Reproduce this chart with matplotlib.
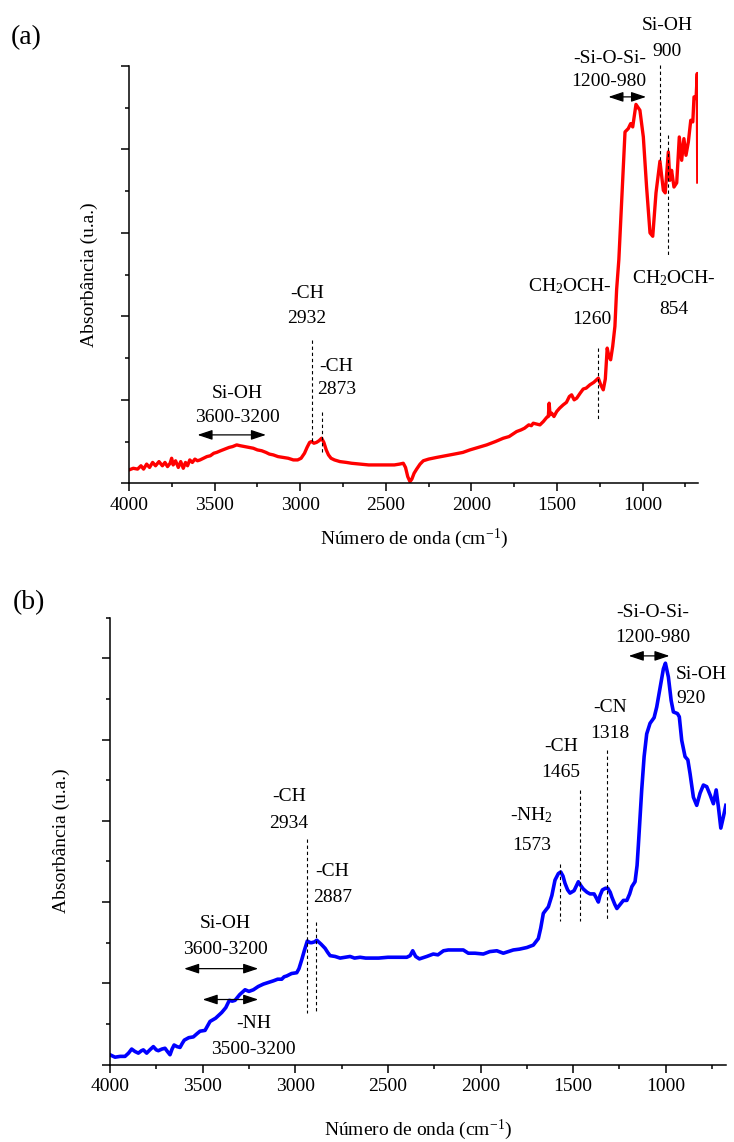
import matplotlib
matplotlib.use("Agg")
import matplotlib.pyplot as plt
from matplotlib.ticker import MultipleLocator, NullFormatter

plt.rcParams['font.family'] = ['Liberation Serif', 'DejaVu Serif']
plt.rcParams['mathtext.fontset'] = 'custom'
plt.rcParams['mathtext.rm'] = 'Liberation Serif'
plt.rcParams['mathtext.it'] = 'Liberation Serif:italic'
plt.rcParams['mathtext.bf'] = 'Liberation Serif:bold'
plt.rcParams['axes.unicode_minus'] = False

# ---------------- spectrum (a) ----------------
wn_a = [4000, 3975, 3950, 3930, 3915, 3897, 3880, 3862, 3845, 3825, 3805, 3790,
        3775, 3760, 3751, 3742, 3728, 3712, 3698, 3683, 3670, 3658, 3645, 3630,
        3615, 3600, 3585, 3565, 3545, 3525, 3505, 3488, 3465, 3440, 3415, 3395,
        3371, 3350, 3325, 3300, 3274, 3250, 3225, 3200, 3180, 3157, 3130, 3100,
        3070, 3040, 3015, 2995, 2975, 2960, 2945, 2933, 2920, 2905, 2890, 2875,
        2862, 2848, 2835, 2820, 2800, 2768, 2730, 2700, 2650, 2600, 2550, 2500,
        2450, 2420, 2398, 2385, 2372, 2359, 2348, 2335, 2320, 2300, 2281, 2250,
        2203, 2150, 2100, 2050, 2009, 1960, 1911, 1860, 1814, 1780, 1750, 1736,
        1710, 1690, 1665, 1650, 1639, 1620, 1600, 1580, 1560, 1551, 1546, 1541,
        1531, 1518, 1502, 1485, 1464, 1445, 1428, 1415, 1400, 1385, 1365, 1347,
        1330, 1308, 1285, 1259, 1245, 1230, 1218, 1207, 1197, 1187, 1175, 1162,
        1152, 1139, 1103, 1084, 1070, 1058, 1039, 1016, 996, 977, 957, 941,
        922, 899, 879, 868, 850, 841, 831, 817, 801, 786, 772, 759,
        747, 733, 719, 707, 700, 688, 681, 678]
abs_a = [0.16, 0.18, 0.17, 0.21, 0.17, 0.23, 0.19, 0.25, 0.21, 0.26, 0.21, 0.25,
         0.20, 0.24, 0.30, 0.22, 0.27, 0.19, 0.26, 0.18, 0.25, 0.21, 0.28, 0.25,
         0.29, 0.27, 0.28, 0.30, 0.32, 0.33, 0.36, 0.37, 0.39, 0.41, 0.43, 0.44,
         0.46, 0.45, 0.44, 0.43, 0.42, 0.40, 0.39, 0.37, 0.35, 0.34, 0.32, 0.31,
         0.30, 0.28, 0.28, 0.30, 0.36, 0.43, 0.49, 0.50, 0.48, 0.49, 0.51, 0.54,
         0.49, 0.40, 0.34, 0.30, 0.28, 0.26, 0.25, 0.24, 0.23, 0.22, 0.22, 0.22,
         0.22, 0.23, 0.24, 0.19, 0.08, 0.02, 0.05, 0.12, 0.17, 0.23, 0.27, 0.29,
         0.31, 0.33, 0.35, 0.37, 0.40, 0.43, 0.46, 0.50, 0.54, 0.56, 0.60, 0.62,
         0.64, 0.66, 0.70, 0.69, 0.72, 0.71, 0.70, 0.74, 0.79, 0.80, 0.96, 0.82,
         0.84, 0.80, 0.86, 0.90, 0.94, 0.97, 1.04, 1.06, 1.00, 1.02, 1.08, 1.13,
         1.14, 1.18, 1.21, 1.26, 1.18, 1.12, 1.25, 1.62, 1.52, 1.48, 1.64, 1.88,
         2.32, 2.68, 4.21, 4.25, 4.31, 4.27, 4.54, 4.47, 4.15, 3.55, 3.00, 2.96,
         3.48, 3.86, 3.51, 3.48, 3.97, 3.63, 3.75, 3.55, 3.60, 4.15, 3.87, 4.13,
         3.93, 4.09, 4.35, 4.33, 4.63, 4.61, 4.91, 3.61]

# ---------------- spectrum (b) ----------------
wn_b = [4000, 3973, 3945, 3919, 3900, 3883, 3865, 3847, 3830, 3820, 3802, 3785,
        3766, 3750, 3739, 3720, 3703, 3690, 3676, 3665, 3654, 3638, 3622, 3610,
        3599, 3575, 3550, 3530, 3514, 3487, 3460, 3430, 3397, 3375, 3356, 3340,
        3325, 3300, 3271, 3250, 3226, 3200, 3172, 3145, 3118, 3095, 3073, 3060,
        3046, 3020, 2992, 2980, 2965, 2950, 2935, 2920, 2911, 2895, 2884, 2860,
        2839, 2825, 2812, 2785, 2758, 2730, 2704, 2680, 2650, 2620, 2596, 2550,
        2500, 2450, 2398, 2380, 2366, 2350, 2330, 2317, 2290, 2255, 2230, 2200,
        2174, 2130, 2093, 2066, 2030, 1985, 1950, 1912, 1877, 1850, 1823, 1790,
        1750, 1715, 1688, 1675, 1661, 1648, 1634, 1615, 1598, 1580, 1567, 1555,
        1544, 1530, 1517, 1495, 1472, 1458, 1445, 1425, 1409, 1387, 1375, 1364,
        1355, 1342, 1325, 1313, 1300, 1291, 1275, 1264, 1250, 1229, 1210, 1195,
        1183, 1166, 1155, 1148, 1130, 1117, 1103, 1085, 1063, 1049, 1027, 1013,
        1002, 986, 971, 959, 937, 927, 914, 896, 881, 869, 851, 833,
        815, 797, 779, 761, 743, 728, 716, 703, 689, 676]
abs_b = [0.12, 0.09, 0.10, 0.10, 0.14, 0.19, 0.16, 0.14, 0.17, 0.18, 0.14, 0.18,
         0.22, 0.18, 0.17, 0.19, 0.20, 0.16, 0.12, 0.19, 0.24, 0.22, 0.21, 0.26,
         0.30, 0.33, 0.34, 0.38, 0.41, 0.42, 0.53, 0.57, 0.64, 0.70, 0.79, 0.78,
         0.79, 0.86, 0.92, 0.90, 0.92, 0.96, 0.99, 1.01, 1.03, 1.05, 1.05, 1.08,
         1.09, 1.12, 1.13, 1.18, 1.29, 1.41, 1.52, 1.50, 1.50, 1.51, 1.53, 1.48,
         1.43, 1.38, 1.34, 1.33, 1.31, 1.32, 1.33, 1.31, 1.32, 1.31, 1.31, 1.31,
         1.32, 1.32, 1.32, 1.34, 1.40, 1.33, 1.30, 1.31, 1.33, 1.36, 1.35, 1.40,
         1.41, 1.41, 1.41, 1.37, 1.37, 1.36, 1.39, 1.40, 1.37, 1.39, 1.41, 1.42,
         1.44, 1.47, 1.55, 1.68, 1.86, 1.90, 1.94, 2.08, 2.27, 2.35, 2.37, 2.32,
         2.23, 2.15, 2.11, 2.14, 2.25, 2.20, 2.16, 2.12, 2.10, 2.10, 2.05, 2.00,
         2.08, 2.15, 2.17, 2.17, 2.12, 2.06, 1.97, 1.92, 1.96, 2.02, 2.02, 2.10,
         2.19, 2.25, 2.45, 2.70, 3.38, 3.79, 4.07, 4.20, 4.27, 4.40, 4.69, 4.87,
         4.94, 4.77, 4.48, 4.34, 4.32, 4.28, 3.99, 3.79, 3.75, 3.58, 3.29, 3.19,
         3.34, 3.44, 3.42, 3.32, 3.21, 3.38, 3.17, 2.91, 3.05, 3.19]

# band assignments: (group, wavenumber cm-1) and (group, high, low)
peaks_a = [("-CH", 2932), ("-CH", 2873), ("CH$_\\mathregular{2}$OCH-", 1260),
           ("Si-OH", 900), ("CH$_\\mathregular{2}$OCH-", 854)]
ranges_a = [("Si-OH", 3600, 3200), ("-Si-O-Si-", 1200, 980)]
peaks_b = [("-CH", 2934), ("-CH", 2887), ("-NH$_\\mathregular{2}$", 1573),
           ("-CH", 1465), ("-CN", 1318), ("Si-OH", 920)]
ranges_b = [("Si-OH", 3600, 3200), ("-NH", 3500, 3200), ("-Si-O-Si-", 1200, 980)]

X_LABEL = "Número de onda (cm$^{\\mathregular{-1}}$)"
Y_LABEL = "Absorbância (u.a.)"

FS = 14

# layout: text x, name y, number y, alignment, dashed line (top, bottom)
peak_layout_a = [
    (2960, 2.28, 1.98, 'center', (1.72, 0.48)),
    (2787, 1.40, 1.12, 'center', (0.86, 0.38)),
    (1181, 2.36, 1.96, 'right', (1.62, 0.75)),
    (858, 5.49, 5.17, 'center', (5.01, 3.84)),
    (820, 2.46, 2.08, 'center', (4.17, 2.71)),
]
range_layout_a = [
    (3365, 1.08, 0.79, 0.58),
    (1195, 5.09, 4.81, 4.63),
]
peak_layout_b = [
    (3035, 3.30, 2.97, 'center', (2.77, 0.64)),
    (2800, 2.38, 2.06, 'center', (1.76, 0.63)),
    (1724, 3.07, 2.70, 'center', (2.47, 1.77)),
    (1567, 3.91, 3.59, 'center', (3.38, 1.77)),
    (1300, 4.40, 4.08, 'center', (3.87, 1.77)),
    (945, 4.80, 4.50, 'left', None),
]
range_layout_b = [
    (3375, 1.73, 1.41, 1.18),
    (3224, 0.50, 0.18, 0.80),
    (1072, 5.57, 5.26, 5.03),
]


def style_axes(ax, ytop):
    for side in ('top', 'right'):
        ax.spines[side].set_visible(False)
    for side in ('left', 'bottom'):
        ax.spines[side].set_linewidth(1.1)
    ax.set_xlim(4000, 675)
    ax.set_ylim(0, ytop)
    ax.xaxis.set_major_locator(MultipleLocator(500))
    ax.xaxis.set_minor_locator(MultipleLocator(250))
    ax.yaxis.set_major_locator(MultipleLocator(1))
    ax.yaxis.set_minor_locator(MultipleLocator(0.5))
    ax.yaxis.set_major_formatter(NullFormatter())
    ax.tick_params(which='both', direction='out', width=1.1, labelsize=FS)
    ax.tick_params(which='major', length=5.8, pad=4)
    ax.tick_params(which='minor', length=3.0)
    ax.set_xlabel(X_LABEL, fontsize=FS)
    ax.set_ylabel(Y_LABEL, fontsize=FS)


def mark_peaks(ax, peaks, layout):
    for (name, wn), (tx, yn, yv, ha, line) in zip(peaks, layout):
        ax.text(tx, yn, name, ha=ha, va='center', fontsize=FS, clip_on=False)
        ax.text(tx, yv, f"{wn}", ha=ha, va='center', fontsize=FS, clip_on=False)
        if line is not None:
            ax.plot([wn, wn], list(line), color='black', lw=0.8,
                    ls=(0, (3, 2.5)), clip_on=False)


def mark_ranges(ax, ranges, layout):
    for (name, hi, lo), (tx, yn, yv, ya) in zip(ranges, layout):
        ax.text(tx, yn, name, ha='center', va='center', fontsize=FS, clip_on=False)
        ax.text(tx, yv, f"{hi}-{lo}", ha='center', va='center', fontsize=FS,
                clip_on=False)
        ax.annotate('', xy=(lo, ya), xytext=(hi, ya), annotation_clip=False,
                    arrowprops=dict(arrowstyle='<|-|>,head_length=0.9,head_width=0.3',
                                    color='black', lw=0.9, shrinkA=0, shrinkB=0,
                                    mutation_scale=10))


fig = plt.figure(figsize=(7.34, 11.42), dpi=100)
ax_a = fig.add_axes([0.17575, 0.5768, 0.7756, 0.3654])
ax_b = fig.add_axes([0.14986, 0.06786, 0.83924, 0.39124])

ax_a.plot(wn_a, abs_a, color='#ff0000', lw=2.4, solid_joinstyle='round')
ax_b.plot(wn_b, abs_b, color='#0000ff', lw=2.6, solid_joinstyle='round')

style_axes(ax_a, 5.0)
style_axes(ax_b, 5.5)

ax_a.yaxis.set_label_coords(-0.054, 0.5)
ax_b.yaxis.set_label_coords(-0.065, 0.5)
ax_a.xaxis.set_label_coords(0.5, -0.105)
ax_b.xaxis.set_label_coords(0.5, -0.118)

mark_peaks(ax_a, peaks_a, peak_layout_a)
mark_ranges(ax_a, ranges_a, range_layout_a)
mark_peaks(ax_b, peaks_b, peak_layout_b)
mark_ranges(ax_b, ranges_b, range_layout_b)

fig.text(0.036, 0.967, "(a)", fontsize=20, ha='center', va='center')
fig.text(0.039, 0.472, "(b)", fontsize=20, ha='center', va='center')

fig.savefig("out.png", dpi=100)
